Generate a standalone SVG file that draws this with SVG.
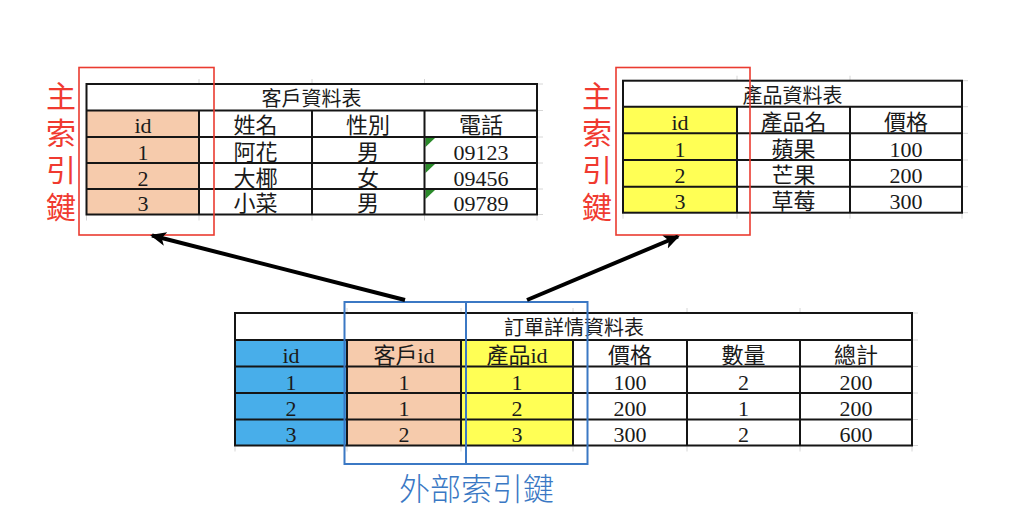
<svg xmlns="http://www.w3.org/2000/svg" width="1024" height="532" viewBox="0 0 1024 532">
<defs>
<style>
.t{font-family:"Liberation Serif","Noto Sans CJK TC",serif;font-size:22px;fill:#1a1a1a;text-anchor:middle}
.tt{font-family:"Liberation Serif","Noto Sans CJK TC",serif;font-size:20px;fill:#1a1a1a;text-anchor:middle}
.b{stroke:#151515;stroke-width:2;fill:none}
.g{stroke:#d6d6d6;stroke-width:1;fill:none}
.red{fill:none;stroke:#ea3b30;stroke-width:1.6}
.blue{fill:none;stroke:#3b78c4;stroke-width:2}
.rl{font-family:"Noto Sans CJK TC","Noto Sans CJK SC",sans-serif;font-size:30px;fill:#f03a30;font-weight:400;writing-mode:vertical-rl;letter-spacing:7px}
.bl{font-family:"Noto Sans CJK TC","Noto Sans CJK SC",sans-serif;font-size:31px;fill:#3a78c4;text-anchor:middle;font-weight:300}
.arr{stroke:#000;stroke-width:4;fill:none}
.peach{fill:#f6cbac}
.yel{fill:#ffff55}
.sky{fill:#48aeea}
.grn{fill:#2a8a2a}
</style>
<marker id="ah" markerUnits="userSpaceOnUse" markerWidth="18" markerHeight="16" refX="14" refY="7" orient="auto">
<path d="M0,0 L16,7 L0,14 L4,7 Z" fill="#000"/>
</marker>
</defs>
<rect width="1024" height="532" fill="#fff"/>

<g id="customer-table">
<path class="g" d="M86.5,214.5v6M199,214.5v6M312,214.5v6M424.5,214.5v6M537,214.5v6M537,84h6M537,110.5h6M537,137h6M537,163h6M537,189h6M537,214.5h6M199,84v-5M312,84v-5M424.5,84v-5"/>
<rect class="peach" x="86.5" y="110.5" width="112.5" height="104"/>
<polygon class="grn" points="425.5,138 435,138 425.5,147"/>
<polygon class="grn" points="425.5,164 435,164 425.5,173"/>
<polygon class="grn" points="425.5,190 435,190 425.5,199"/>
<rect class="b" x="86.5" y="84" width="450.5" height="130.5"/>
<path class="b" d="M86.5,110.5H537M86.5,137H537M86.5,163H537M86.5,189H537M199,110.5V214.5M312,110.5V214.5M424.5,110.5V214.5"/>
<text class="tt" x="311.5" y="106">客戶資料表</text>
<text class="t" x="143" y="133">id</text>
<text class="t" x="255.5" y="133">姓名</text>
<text class="t" x="368" y="133">性別</text>
<text class="t" x="481" y="133">電話</text>
<text class="t" x="143" y="159.5">1</text>
<text class="t" x="255.5" y="159.5">阿花</text>
<text class="t" x="368" y="159.5">男</text>
<text class="t" x="481" y="159.5">09123</text>
<text class="t" x="143" y="185.5">2</text>
<text class="t" x="255.5" y="185.5">大椰</text>
<text class="t" x="368" y="185.5">女</text>
<text class="t" x="481" y="185.5">09456</text>
<text class="t" x="143" y="210.5">3</text>
<text class="t" x="255.5" y="210.5">小菜</text>
<text class="t" x="368" y="210.5">男</text>
<text class="t" x="481" y="210.5">09789</text>
</g>

<g id="customer-pk">
<rect class="red" x="79" y="67.5" width="135" height="167.5"/>
<text class="rl" x="61" y="81">主索引鍵</text>
</g>

<g id="product-table">
<path class="g" d="M623,212.7v6M737,212.7v6M850,212.7v6M962,212.7v6M962,80.7h6M962,106.7h6M962,133.3h6M962,160h6M962,186.7h6M962,212.7h6M737,80.7v-5M850,80.7v-5"/>
<rect class="yel" x="623" y="106.7" width="114" height="106"/>
<rect class="b" x="623" y="80.7" width="339" height="132"/>
<path class="b" d="M623,106.7H962M623,133.3H962M623,160H962M623,186.7H962M737,106.7V212.7M850,106.7V212.7"/>
<text class="tt" x="792.5" y="103">產品資料表</text>
<text class="t" x="680" y="130">id</text>
<text class="t" x="793.5" y="130">產品名</text>
<text class="t" x="906" y="130">價格</text>
<text class="t" x="680" y="156.5">1</text>
<text class="t" x="793.5" y="156.5">蘋果</text>
<text class="t" x="906" y="156.5">100</text>
<text class="t" x="680" y="183">2</text>
<text class="t" x="793.5" y="183">芒果</text>
<text class="t" x="906" y="183">200</text>
<text class="t" x="680" y="208.5">3</text>
<text class="t" x="793.5" y="208.5">草莓</text>
<text class="t" x="906" y="208.5">300</text>
</g>

<g id="product-pk">
<rect class="red" x="616" y="67.5" width="134" height="167.5"/>
<text class="rl" x="597" y="81">主索引鍵</text>
</g>

<g id="order-table">
<path class="g" d="M235,445.5v6M347,445.5v6M461,445.5v6M573,445.5v6M687,445.5v6M800,445.5v6M912,445.5v6M912,313h6M912,340h6M912,366.5h6M912,393h6M912,419.5h6M912,445.5h6M347,313v-5M461,313v-5M573,313v-5M687,313v-5M800,313v-5"/>
<rect class="sky" x="235" y="340" width="112" height="105.5"/>
<rect class="peach" x="347" y="340" width="114" height="105.5"/>
<rect class="yel" x="461" y="340" width="112" height="105.5"/>
<rect class="b" x="235" y="313" width="677" height="132.5"/>
<path class="b" d="M235,340H912M235,366.5H912M235,393H912M235,419.5H912M347,340V445.5M461,340V445.5M573,340V445.5M687,340V445.5M800,340V445.5"/>
<text class="tt" x="574" y="335">訂單詳情資料表</text>
<text class="t" x="291" y="363">id</text>
<text class="t" x="404" y="363">客戶id</text>
<text class="t" x="517" y="363">產品id</text>
<text class="t" x="630" y="363">價格</text>
<text class="t" x="743.5" y="363">數量</text>
<text class="t" x="856" y="363">總計</text>
<text class="t" x="291" y="389.5">1</text>
<text class="t" x="404" y="389.5">1</text>
<text class="t" x="517" y="389.5">1</text>
<text class="t" x="630" y="389.5">100</text>
<text class="t" x="743.5" y="389.5">2</text>
<text class="t" x="856" y="389.5">200</text>
<text class="t" x="291" y="416">2</text>
<text class="t" x="404" y="416">1</text>
<text class="t" x="517" y="416">2</text>
<text class="t" x="630" y="416">200</text>
<text class="t" x="743.5" y="416">1</text>
<text class="t" x="856" y="416">200</text>
<text class="t" x="291" y="442">3</text>
<text class="t" x="404" y="442">2</text>
<text class="t" x="517" y="442">3</text>
<text class="t" x="630" y="442">300</text>
<text class="t" x="743.5" y="442">2</text>
<text class="t" x="856" y="442">600</text>
</g>

<g id="order-fk">
<rect class="blue" x="344.5" y="302" width="121.5" height="162"/>
<rect class="blue" x="466" y="302" width="121.5" height="162"/>
<text class="bl" x="476.5" y="500">外部索引鍵</text>
</g>

<g id="connectors">
<line class="arr" x1="405" y1="300" x2="152" y2="235.5" marker-end="url(#ah)"/>
<line class="arr" x1="527" y1="300" x2="678" y2="236.5" marker-end="url(#ah)"/>
</g>
</svg>
